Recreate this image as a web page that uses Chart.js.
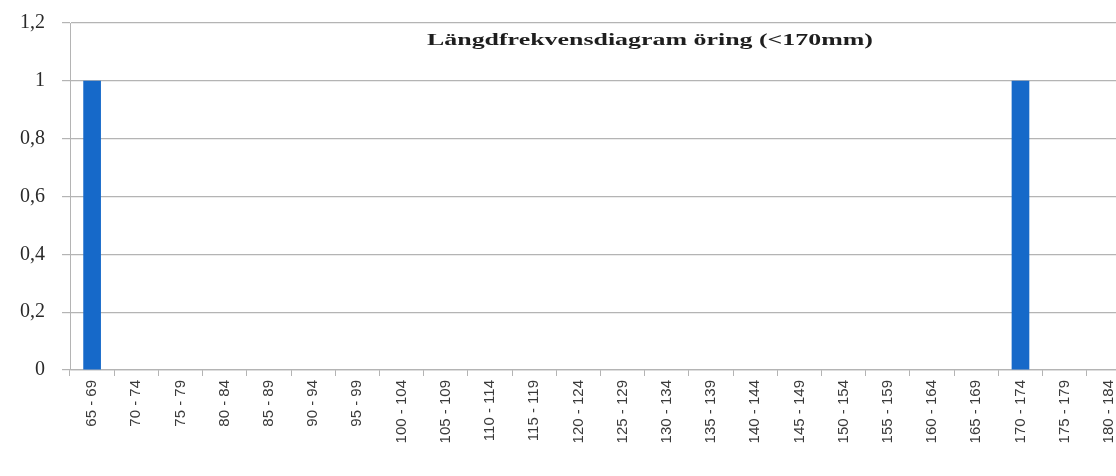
<!DOCTYPE html>
<html>
<head>
<meta charset="utf-8"/>
<style>
  html,body{margin:0;padding:0;background:#fff;overflow:hidden;}
  .wrap{width:1116px;height:476px;overflow:hidden;}
  #c{display:block;margin-top:-6px;}
</style>
</head>
<body>
<div class="wrap"><canvas id="c" width="1135" height="482"></canvas></div>
<script src="https://cdn.jsdelivr.net/npm/chart.js@4.4.0/dist/chart.umd.min.js"></script>
<script>
const lengthClasses = ['65 - 69','70 - 74','75 - 79','80 - 84','85 - 89','90 - 94','95 - 99','100 - 104',
  '105 - 109','110 - 114','115 - 119','120 - 124','125 - 129','130 - 134','135 - 139','140 - 144',
  '145 - 149','150 - 154','155 - 159','160 - 164','165 - 169','170 - 174','175 - 179','180 - 184'];
const counts = [1,0,0,0,0,0,0,0,0,0,0,0,0,0,0,0,0,0,0,0,0,1,0,0];
const yTicks = [0,0.2,0.4,0.6,0.8,1,1.2];
const chartTitle = 'Längdfrekvensdiagram öring (<170mm)';

// titel inne i diagrammet, lite breddad som i originalet
const titlePlugin = {
  id:'innerTitle',
  afterDraw(chart){
    const ctx = chart.ctx;
    ctx.save();
    ctx.font = 'bold 17px "Liberation Serif", "DejaVu Serif", serif';
    ctx.fillStyle = '#1e1e1e';
    ctx.textBaseline = 'middle';
    const w = ctx.measureText(chartTitle).width;
    const target = 446;
    ctx.translate(427, chart.chartArea.top + 18);
    ctx.scale(target / w, 1);
    ctx.fillText(chartTitle, 0, 0);
    ctx.restore();
  }
};

new Chart(document.getElementById('c'), {
  type:'bar',
  data:{
    labels: lengthClasses,
    datasets:[{
      data: counts,
      backgroundColor:'#1669c9',
      barPercentage:0.4,
      categoryPercentage:1
    }]
  },
  options:{
    responsive:false, animation:false,
    layout:{ padding:{ top:12, right:4, left:0, bottom:0 } },
    plugins:{ legend:{display:false}, tooltip:{enabled:false}, title:{display:false} },
    scales:{
      y:{
        min:0, max:1.2,
        afterBuildTicks: s => { s.ticks = yTicks.map(v => ({value:v})); },
        afterFit: s => { s.width = 70; },
        grid:{ color:'#b4b4b4', lineWidth:1.2, tickLength:8 },
        border:{ color:'#b4b4b4' },
        ticks:{ color:'#2a2a2a', padding:17,
          font:{ family:'"Liberation Serif", serif', size:20 },
          callback: v => String(Number(v.toFixed(1))).replace('.', ',') }
      },
      x:{
        afterFit: s => { s.height = 106; },
        grid:{ display:true, drawOnChartArea:false, color:'#b4b4b4', tickLength:6, offset:true },
        border:{ color:'#b4b4b4', width:1.2 },
        ticks:{ color:'#3a3a3a', minRotation:90, maxRotation:90, autoSkip:false, padding:4,
          font:{ family:'"Liberation Sans", Arial, sans-serif', size:15 } }
      }
    }
  },
  plugins:[titlePlugin]
});
</script>
</body>
</html>
